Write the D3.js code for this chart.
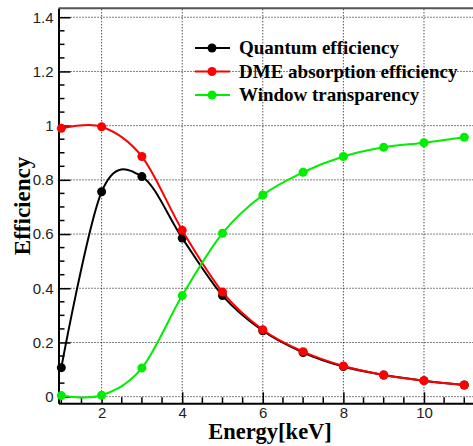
<!DOCTYPE html>
<html><head><meta charset="utf-8">
<script src="https://cdn.jsdelivr.net/npm/d3@7"></script>
<style>body{margin:0;background:#fff;}svg{display:block;}</style>
</head><body>
<svg id="c" width="473" height="446"></svg>
<script>
const energy = [1,2,3,4,5,6,7,8,9,10,11];
const quantumEff = [0.107,0.756,0.812,0.585,0.373,0.243,0.163,0.111,0.080,0.059,0.043];
const dmeAbs = [0.990,0.996,0.886,0.614,0.386,0.247,0.166,0.113,0.080,0.059,0.043];
const windowTr = [0.004,0.005,0.106,0.373,0.603,0.744,0.828,0.886,0.920,0.937,0.957];
const seriesNames = ["Quantum efficiency","DME absorption efficiency","Window transparency"];
const seriesColors = ["#000000","#ff0000","#00ee00"];
const xTicks = [2,4,6,8,10];
const yTicks = [0,0.2,0.4,0.6,0.8,1,1.2,1.4];

const svg = d3.select("#c");
const x = d3.scaleLinear().domain([0.93,11.44]).range([58.5,482]);
const y = d3.scaleLinear().domain([-0.0245,1.433]).range([403.3,8.3]);
const [x0,x1] = x.range(), [y0,y1] = y.range();

// grid
const g = svg.append("g");
g.selectAll("line.gx").data(xTicks).join("line")
  .attr("x1",d=>x(d)).attr("x2",d=>x(d)).attr("y1",y0).attr("y2",y1)
  .attr("stroke","#000").attr("stroke-width",1).attr("stroke-dasharray","1,2");
g.selectAll("line.gy").data(yTicks).join("line")
  .attr("y1",d=>y(d)).attr("y2",d=>y(d)).attr("x1",x0).attr("x2",x1)
  .attr("stroke","#000").attr("stroke-width",1).attr("stroke-dasharray","1,2");

// frame top
svg.append("line").attr("x1",x0).attr("x2",x1).attr("y1",y1).attr("y2",y1)
  .attr("stroke","#555").attr("stroke-width",2);

// axes
const xAxis = d3.axisBottom(x).tickValues(xTicks).tickSizeInner(-11).tickSizeOuter(0).tickPadding(4).tickFormat(d3.format("d"));
const xMinor = d3.range(1,11.45,0.5).filter(v=>v%2!==0);
const ax = svg.append("g").attr("transform",`translate(0,${y0})`).call(xAxis);
ax.select(".domain").attr("stroke-width",2);
ax.selectAll(".tick line").attr("stroke-width",1.5);
ax.selectAll("text").attr("font-family","Liberation Sans, Arial, sans-serif").attr("font-size",15).attr("fill","#222");
ax.selectAll("line.minor").data(xMinor).join("line").attr("class","minor")
  .attr("x1",d=>x(d)).attr("x2",d=>x(d)).attr("y1",0).attr("y2",-6).attr("stroke","#000").attr("stroke-width",1.5);

const yAxis = d3.axisLeft(y).tickValues(yTicks).tickSizeInner(-12).tickSizeOuter(0).tickPadding(5).tickFormat(d=>d3.format("~g")(d));
const ay = svg.append("g").attr("transform",`translate(${x0},0)`).call(yAxis);
ay.select(".domain").attr("stroke-width",2);
ay.selectAll(".tick line").attr("stroke-width",1.5);
ay.selectAll("text").attr("font-family","Liberation Sans, Arial, sans-serif").attr("font-size",15).attr("fill","#222");
const yMinor = d3.range(0.05,1.42,0.05).filter(v=>Math.abs(v*5-Math.round(v*5))>1e-6);
ay.selectAll("line.minor").data(yMinor).join("line").attr("class","minor")
  .attr("y1",d=>y(d)).attr("y2",d=>y(d)).attr("x1",0).attr("x2",6).attr("stroke","#000").attr("stroke-width",1.5);

// titles
svg.append("text").attr("x",270).attr("y",439).attr("text-anchor","middle")
  .attr("font-family","Liberation Serif, Times New Roman, serif").attr("font-weight","bold").attr("font-size",22.5)
  .text("Energy[keV]");
svg.append("text").attr("transform","translate(30,206) rotate(-90)").attr("text-anchor","middle")
  .attr("font-family","Liberation Serif, Times New Roman, serif").attr("font-weight","bold").attr("font-size",23)
  .text("Efficiency");

// series
const series = [quantumEff, dmeAbs, windowTr];
const line = d3.line().x((d,i)=>x(energy[i])).y(d=>y(d)).curve(d3.curveCardinal.tension(0));
series.forEach((vals,k)=>{
  const sg = svg.append("g");
  sg.append("path").datum(vals).attr("d",line).attr("fill","none")
    .attr("stroke",seriesColors[k]).attr("stroke-width",2);
  sg.selectAll("circle").data(vals).join("circle")
    .attr("cx",(d,i)=>x(energy[i])).attr("cy",d=>y(d)).attr("r",4.5).attr("fill",seriesColors[k]);
});

// legend
const lg = svg.append("g");
seriesNames.forEach((n,k)=>{
  const cy = 48 + k*23.5;
  lg.append("line").attr("x1",195).attr("x2",230).attr("y1",cy).attr("y2",cy)
    .attr("stroke",seriesColors[k]).attr("stroke-width",2);
  lg.append("circle").attr("cx",212).attr("cy",cy).attr("r",4.5).attr("fill",seriesColors[k]);
  lg.append("text").attr("x",239).attr("y",cy+6)
    .attr("font-family","Liberation Serif, Times New Roman, serif").attr("font-weight","bold").attr("font-size",19)
    .text(n);
});
</script>
</body></html>
